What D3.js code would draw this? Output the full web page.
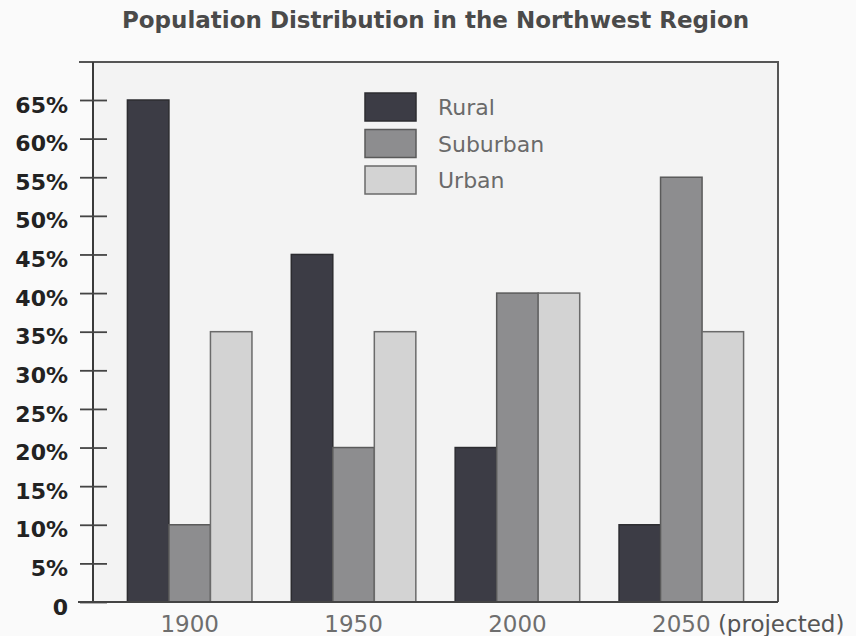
<!DOCTYPE html>
<html>
<head>
<meta charset="utf-8">
<script src="https://cdn.jsdelivr.net/npm/d3@7"></script>
<style>
  html, body { margin: 0; padding: 0; background: #fafafa; }
  svg { display: block; }
</style>
</head>
<body>
<svg id="chart" width="856" height="636"></svg>
<script>
// Population shares by year and settlement type
const years = ["1900", "1950", "2000", "2050"];
const yearNotes = ["", "", "", " (projected)"];
const seriesNames = ["Rural", "Suburban", "Urban"];
const rural = [65, 45, 20, 10];
const suburban = [10, 20, 40, 55];
const urban = [35, 35, 40, 35];
const yTickValues = [0, 5, 10, 15, 20, 25, 30, 35, 40, 45, 50, 55, 60, 65];
const titleText = "Population Distribution in the Northwest Region";

const seriesValues = [rural, suburban, urban];
const fills = ["#3c3c45", "#8d8d8f", "#d3d3d3"];
const strokes = ["#2c2c30", "#5a5a5a", "#6a6a6a"];

const svg = d3.select("#chart");
const frame = { left: 93, right: 778, top: 62, bottom: 602 };

const x = d3.scaleBand()
  .domain(years)
  .range([frame.left, frame.right])
  .paddingInner(0.24)
  .paddingOuter(0.21);

const xSeries = d3.scaleBand()
  .domain(seriesNames)
  .range([0, x.bandwidth()]);

const y = d3.scaleLinear()
  .domain([0, 65])
  .range([frame.bottom, 100]);

// plot area background
svg.append("rect")
  .attr("x", frame.left).attr("y", frame.top)
  .attr("width", frame.right - frame.left)
  .attr("height", frame.bottom - frame.top)
  .attr("fill", "#f3f3f3");

// title
svg.append("text")
  .attr("x", (frame.left + frame.right) / 2)
  .attr("y", 28)
  .attr("text-anchor", "middle")
  .attr("font-family", "DejaVu Sans")
  .attr("font-weight", "bold")
  .attr("font-size", 23)
  .attr("fill", "#4a4a4a")
  .text(titleText);

// bars
const rows = [];
years.forEach((yr, i) => {
  seriesNames.forEach((s, j) => {
    rows.push({ year: yr, series: s, idx: j, value: seriesValues[j][i] });
  });
});

svg.append("g")
  .selectAll("rect")
  .data(rows)
  .join("rect")
  .attr("x", d => x(d.year) + xSeries(d.series))
  .attr("y", d => y(d.value))
  .attr("width", xSeries.bandwidth())
  .attr("height", d => y(0) - y(d.value))
  .attr("fill", d => fills[d.idx])
  .attr("stroke", d => strokes[d.idx])
  .attr("stroke-width", 1.5);

// frame: top and right edges
svg.append("path")
  .attr("d", `M${frame.left - 14},${frame.top}H${frame.right}V${frame.bottom}`)
  .attr("fill", "none")
  .attr("stroke", "#555")
  .attr("stroke-width", 2);

// y axis with ticks crossing the axis line
const yAxis = svg.append("g")
  .attr("transform", `translate(${frame.left},0)`)
  .call(d3.axisLeft(y)
    .tickValues(yTickValues)
    .tickSize(13)
    .tickPadding(12)
    .tickFormat(d => d === 0 ? "0" : d + "%"));
yAxis.select(".domain")
  .attr("d", `M0,${frame.top}V${frame.bottom}`)
  .attr("stroke", "#3a3a3a")
  .attr("stroke-width", 2);
yAxis.selectAll(".tick line")
  .attr("x1", 14)
  .attr("stroke", "#444")
  .attr("stroke-width", 1.8);
yAxis.selectAll(".tick text")
  .attr("dy", "0.55em")
  .attr("font-family", "DejaVu Sans")
  .attr("font-weight", "bold")
  .attr("font-size", 22)
  .attr("fill", "#222");

// x axis baseline and year labels
const xAxis = svg.append("g")
  .attr("transform", `translate(0,${frame.bottom})`)
  .call(d3.axisBottom(x).tickSize(0).tickPadding(0).tickFormat(""));
xAxis.select(".domain")
  .attr("d", `M${frame.left - 15},0H${frame.right}`)
  .attr("stroke", "#444")
  .attr("stroke-width", 2);

const xLabels = svg.append("g")
  .selectAll("text")
  .data(years)
  .join("text")
  .attr("x", d => x(d) + x.bandwidth() / 2)
  .attr("y", 632)
  .attr("font-family", "DejaVu Sans")
  .attr("font-size", 23)
  .attr("fill", "#6e6e6e");
xLabels.each(function(d, i) {
  const t = d3.select(this);
  const yr = t.append("tspan").text(d);
  if (yearNotes[i]) {
    t.append("tspan").attr("fill", "#555").text(yearNotes[i]);
  }
  // center the year itself under its group
  const w = yr.node().getComputedTextLength();
  t.attr("x", x(d) + x.bandwidth() / 2 - w / 2);
});

// legend
const legend = svg.append("g")
  .selectAll("g")
  .data(seriesNames)
  .join("g")
  .attr("transform", (d, i) => `translate(365,${93 + i * 36.5})`);
legend.append("rect")
  .attr("width", 51)
  .attr("height", 28)
  .attr("fill", (d, i) => fills[i])
  .attr("stroke", (d, i) => strokes[i])
  .attr("stroke-width", 1.5);
legend.append("text")
  .attr("x", 73)
  .attr("y", 22)
  .attr("font-family", "DejaVu Sans")
  .attr("font-size", 22)
  .attr("fill", "#6a6a6a")
  .text(d => d);
</script>
</body>
</html>
